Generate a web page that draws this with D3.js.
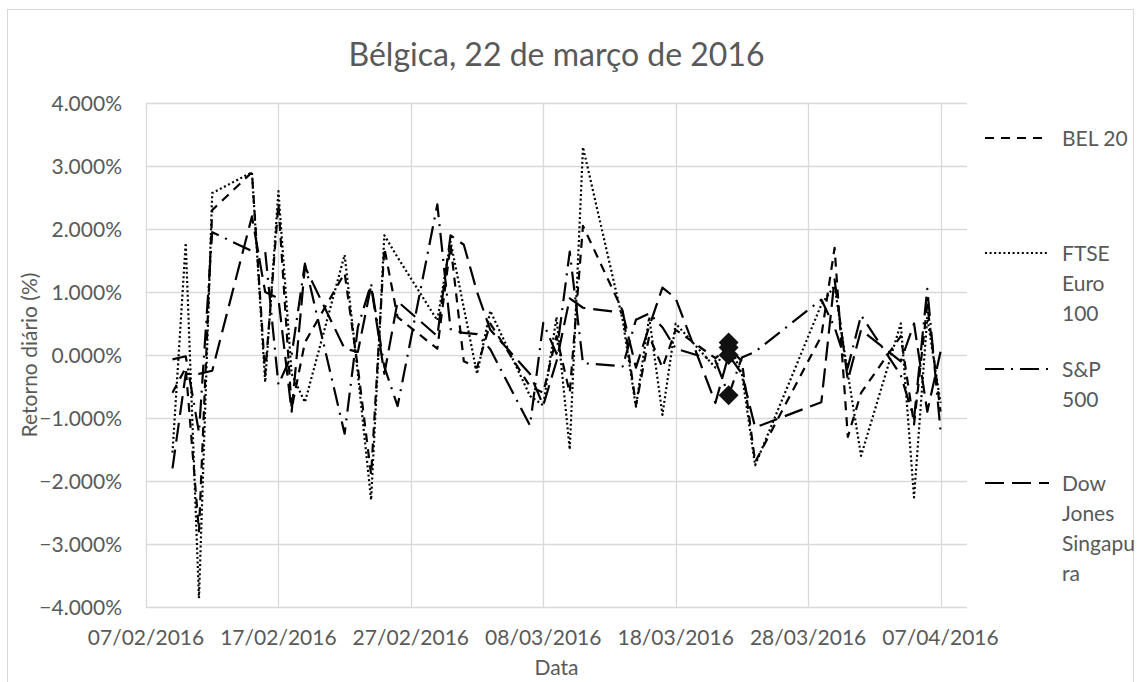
<!DOCTYPE html>
<html>
<head>
<meta charset="utf-8">
<script src="https://cdn.jsdelivr.net/npm/d3@7"></script>
<style>
  body { margin: 0; background: #fff; }
  text { font-family: Lato, "Noto Sans", sans-serif; fill: #595959; }
</style>
</head>
<body>
<svg id="chart" width="1141" height="682"></svg>
<script>
// trading days (BEL 20 calendar)
const dates = ['2016-02-09','2016-02-10','2016-02-11','2016-02-12','2016-02-15','2016-02-16','2016-02-17','2016-02-18','2016-02-19',
  '2016-02-22','2016-02-23','2016-02-24','2016-02-25','2016-02-26','2016-02-29','2016-03-01','2016-03-02','2016-03-03','2016-03-04',
  '2016-03-07','2016-03-08','2016-03-09','2016-03-10','2016-03-11','2016-03-14','2016-03-15','2016-03-16','2016-03-17','2016-03-18',
  '2016-03-21','2016-03-22','2016-03-23','2016-03-24','2016-03-29','2016-03-30','2016-03-31','2016-04-01','2016-04-04','2016-04-05',
  '2016-04-06','2016-04-07'];

// daily returns in %
const bel20 = [-0.6, -0.2, -2.8, 2.3, 2.9, -0.3, 2.4, -0.85, 0.2, 1.3, -0.2, -1.9, 1.7, 0.6, 0.1, 1.75, -0.1, -0.2, 0.5,
  -0.5, -0.6, 0.3, -0.6, 2.05, 0.7, -0.8, 0.3, -0.2, 0.4, -0.05, 0.12, -0.1, -1.7, 0.3, 1.7, -1.3, -0.6, 0.3, -1.1, 0.8, -0.9];
const ftseEuro100 = [-1.55, 1.78, -3.86, 2.57, 2.9, -0.43, 2.6, -0.3, -0.75, 1.59, -0.3, -2.3, 1.9, 1.55, 0.55, 1.8, 0.75, -0.3, 0.7,
  -0.65, -0.8, 0.6, -1.5, 3.3, 0.55, -0.82, 0.6, -0.95, 0.5, -0.2, 0.2, -0.3, -1.75, 0.8, 1.1, -0.3, -1.6, 0.5, -2.26, 0.6, -0.76];
const sp500 = [-0.07, -0.02, -1.23, 1.95, 1.65, 1.65, -0.47, 0.0, 1.45, -1.25, 0.44, 1.13, -0.19, -0.81, 2.39, 0.41, 0.35, 0.33, 0.09,
  -1.12, 0.51, 0.02, 1.64, -0.13, -0.18, 0.56, 0.66, 0.44, 0.1, -0.09, -0.64, -0.04, 0.05, 0.88, 0.44, -0.2, 0.63, -0.32, -1.01, 1.05, -1.2];
const dowSingapura = [-1.8, -0.3, -0.3, -0.25, 2.2, 1.0, 0.9, -0.9, 1.4, 0.1, 0.05, 1.1, -0.3, 0.85, 0.3, 1.9, 1.75, 1.0, 0.4,
  -0.3, -0.8, -0.1, 0.9, 0.75, 0.67, -0.2, 0.45, 1.07, 0.9, -0.76, 0.0, -0.3, -1.15, -0.75, 1.2, -0.4, 0.4, -0.1, 0.5, -0.9, 0.05];

const eventDate = '2016-03-22';
const yTicks = [4, 3, 2, 1, 0, -1, -2, -3, -4];

const seriesList = [
  {name: ['BEL 20'], values: bel20, dash: '9 7'},
  {name: ['FTSE', 'Euro', '100'], values: ftseEuro100, dash: '2 2.6'},
  {name: ['S&P', '500'], values: sp500, dash: '19 7 2 7'},
  {name: ['Dow', 'Jones', 'Singapu', 'ra'], values: dowSingapura, dash: '19 8'}
];

const parse = d3.timeParse('%Y-%m-%d');
const svg = d3.select('#chart');

// chart border
svg.append('rect')
  .attr('x', 7.5).attr('y', 9.5)
  .attr('width', 1126).attr('height', 700)
  .attr('fill', 'none').attr('stroke', '#d9d9d9');

const plot = {left: 146, right: 967, top: 103, bottom: 607};

const x = d3.scaleTime()
  .domain([parse('2016-02-07'), parse('2016-04-09')])
  .range([plot.left, plot.right]);
const y = d3.scaleLinear()
  .domain([-4, 4])
  .range([plot.bottom, plot.top]);

const xTicks = d3.range(7).map(i => d3.timeDay.offset(parse('2016-02-07'), i * 10));

// gridlines
svg.append('g')
  .selectAll('line')
  .data(yTicks)
  .join('line')
  .attr('x1', plot.left).attr('x2', plot.right)
  .attr('y1', d => Math.round(y(d)) + 0.5).attr('y2', d => Math.round(y(d)) + 0.5)
  .attr('stroke', '#d9d9d9').attr('stroke-width', 1.3);

svg.append('g')
  .selectAll('line')
  .data(xTicks)
  .join('line')
  .attr('x1', d => Math.round(x(d)) + 0.5).attr('x2', d => Math.round(x(d)) + 0.5)
  .attr('y1', plot.top).attr('y2', plot.bottom)
  .attr('stroke', '#d9d9d9').attr('stroke-width', 1.3);

// tick labels
svg.append('g')
  .selectAll('text')
  .data(yTicks)
  .join('text')
  .attr('x', 122)
  .attr('y', d => y(d))
  .attr('dy', '0.36em')
  .attr('text-anchor', 'end')
  .style('font-size', '21px')
  .text(d => d3.format('.3f')(d) + '%');

const fmt = d3.timeFormat('%d/%m/%Y');
svg.append('g')
  .selectAll('text')
  .data(xTicks)
  .join('text')
  .attr('x', d => x(d))
  .attr('y', 645)
  .attr('text-anchor', 'middle')
  .style('font-size', '21px')
  .text(d => fmt(d));

// titles
svg.append('text')
  .attr('x', (plot.left + plot.right) / 2)
  .attr('y', 66)
  .attr('text-anchor', 'middle')
  .style('font-size', '32px')
  .text('Bélgica, 22 de março de 2016');

svg.append('text')
  .attr('transform', `translate(37, ${(plot.top + plot.bottom) / 2}) rotate(-90)`)
  .attr('text-anchor', 'middle')
  .style('font-size', '21px')
  .text('Retorno diário (%)');

svg.append('text')
  .attr('x', (plot.left + plot.right) / 2)
  .attr('y', 675)
  .attr('text-anchor', 'middle')
  .style('font-size', '21px')
  .text('Data');

// lines
const line = d3.line()
  .x(d => x(d.date))
  .y(d => y(d.v));

seriesList.forEach(s => {
  s.points = dates.map((d, i) => ({date: parse(d), v: s.values[i]}));
});

svg.append('g')
  .selectAll('path')
  .data(seriesList)
  .join('path')
  .attr('d', d => line(d.points))
  .attr('fill', 'none')
  .attr('stroke', '#000')
  .attr('stroke-width', 2.2)
  .attr('stroke-linejoin', 'round')
  .attr('stroke-dasharray', d => d.dash);

// event-day markers (square diamonds)
const r = 10;
svg.append('g')
  .selectAll('path')
  .data(seriesList.map(s => s.points.find(p => d3.timeFormat('%Y-%m-%d')(p.date) === eventDate)))
  .join('path')
  .attr('transform', d => `translate(${x(d.date)}, ${y(d.v)})`)
  .attr('d', `M0,${-r}L${r},0L0,${r}L${-r},0Z`)
  .attr('fill', '#111');

// legend
const legendY = [138, 253, 369, 483];
const legend = svg.append('g')
  .selectAll('g')
  .data(seriesList)
  .join('g')
  .attr('transform', (d, i) => `translate(0, ${legendY[i]})`);

legend.append('line')
  .attr('x1', 985).attr('x2', 1049)
  .attr('y1', 0).attr('y2', 0)
  .attr('stroke', '#000')
  .attr('stroke-width', 2.2)
  .attr('stroke-dasharray', d => d.dash);

legend.append('text')
  .attr('x', 1062)
  .attr('y', 0)
  .style('font-size', '21px')
  .selectAll('tspan')
  .data(d => d.name)
  .join('tspan')
  .attr('x', 1062)
  .attr('y', (d, i) => i * 30)
  .attr('dy', '0.36em')
  .text(d => d);
</script>
</body>
</html>
